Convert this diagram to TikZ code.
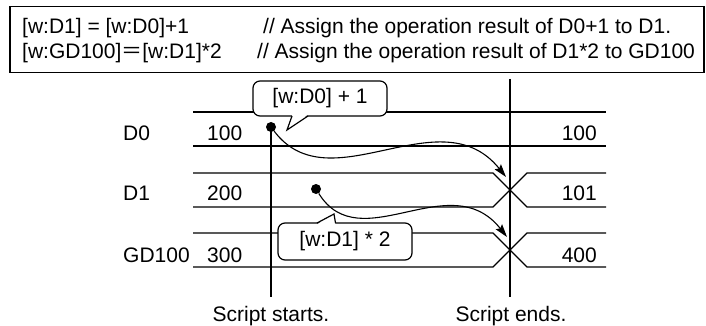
\documentclass[tikz,border=0pt]{standalone}
\usepackage{fontspec}
\setmainfont{Liberation Sans}
\newfontfamily\cjkfont{Noto Sans CJK SC}
\usetikzlibrary{arrows.meta,positioning,calc}
\newcommand{\txtsize}{\fontsize{21}{25}\selectfont}
\tikzset{
  codebox/.style={draw, line width=1.6pt, minimum width=694pt, minimum height=66pt, inner sep=0pt},
  txt/.style={font=\txtsize, inner sep=0pt, anchor=base west},
  rtxt/.style={txt, anchor=base east},
  ctxt/.style={txt, anchor=base},
  sig/.style={line width=1.2pt},
  callbox/.style={draw, fill=white, line width=1.2pt, rounded corners=7pt,
                  minimum width=134pt, minimum height=35pt, inner sep=0pt, font=\txtsize},
  valdot/.style={circle, fill, inner sep=0pt, minimum size=10pt},
  flowarr/.style={-{Stealth[length=13pt,width=8pt,inset=2pt]}, line width=1.1pt},
}

\begin{document}
\begin{tikzpicture}[x=1pt,y=-1pt]
    \useasboundingbox (0,0) rectangle (706,326);
    % script box
    \node[codebox] (code) at (357,39.5) {};
    \node[txt] (expr1) at (22,34) {[w:D1] = [w:D0]+1};
    \node[txt] (note1) at (263,34) {// Assign the operation result of D0+1 to D1.};
    \node[txt] (expr2) at (22,59) {[w:GD100]{\cjkfont ＝}[w:D1]*2};
    \node[txt] (note2) at (257,59) {// Assign the operation result of D1*2 to GD100};

    % signal rows
    \draw[sig] (193,112) -- (606,112);
    \draw[sig] (193,146) -- (606,146);
    \draw[sig] (193,173) -- (493,173) -- (527,207) -- (606,207);
    \draw[sig] (193,207) -- (493,207) -- (527,173) -- (606,173);
    \draw[sig] (193,233) -- (493,233) -- (527,267) -- (606,267);
    \draw[sig] (193,267) -- (493,267) -- (527,233) -- (606,233);

    \node[txt] (lbd0) at (123,140) {D0};
    \node[txt] (lbd1) at (123,200) {D1};
    \node[txt] (lbgd) at (123,262) {GD100};
    \node[txt] (d0old) at (207,140) {100};
    \node[txt] (d1old) at (207,200) {200};
    \node[txt] (gdold) at (207,262) {300};
    \node[rtxt] (d0new) at (597,140) {100};
    \node[rtxt] (d1new) at (597,200) {101};
    \node[rtxt] (gdnew) at (597,262) {400};

    % start / end of script
    \node[valdot] (d0dot) at (271,127) {};
    \node[valdot] (d1dot) at (316,189) {};
    \draw[sig] (d0dot.center) -- (271,297);
    \draw[sig] (510,79) -- (510,297);
    \node[ctxt] (startlbl) at (271,321) {Script starts.};
    \node[ctxt] (endlbl) at (511,321) {Script ends.};

    % callouts
    \node[callbox] (incr) at (320,98.5) {[w:D0] + 1};
    \fill[white] (292.3,115) -- (307.4,115) -- (287,130) -- cycle;
    \draw[sig] (292,116) -- (287,130) -- (308,116);
    \node[callbox, minimum height=37pt] (dbl) at (345,241.5) {[w:D1] * 2};
    \fill[white] (317.6,224) -- (335.3,224) -- (334,214) -- cycle;
    \draw[sig] (317,223) -- (334,214) -- (335.5,223);

    % transfers
    \coordinate (tip1) at (506,177);
    \coordinate (tip2) at (507,237);
    \draw[flowarr] (d0dot) .. controls (330,205) and (440,95) .. (tip1);
    \draw[flowarr] (d1dot) .. controls (360,260) and (450,165) .. (tip2);
  \end{tikzpicture}
\end{document}
